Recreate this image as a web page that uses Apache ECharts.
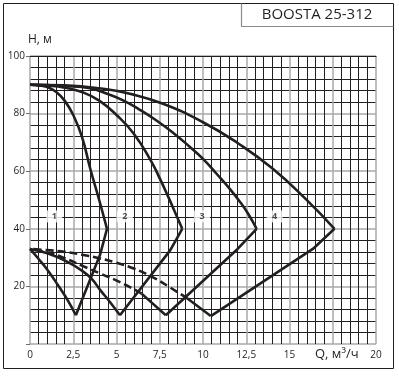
<!DOCTYPE html>
<html>
<head>
<meta charset="utf-8">
<script src="https://cdn.jsdelivr.net/npm/echarts@6/dist/echarts.min.js"></script>
<style>
  html, body { margin: 0; padding: 0; background: #fff; }
  #chart { width: 399px; height: 376px; }
</style>
</head>
<body>
<div id="chart"></div>
<script>
// tick labels (17,5 is left out, the axis name sits there)
const xTickLabels = ['0', '2,5', '5', '7,5', '10', '12,5', '15', '', '20'];
const yTickLabels = ['', '20', '40', '60', '80', '100'];

// Q-H curves, [Q m3/h, H m]
const arc1 = [[0, 90], [0.5, 89.8], [1, 89.2], [1.5, 87.6], [2, 84.5], [2.5, 79.5], [3, 72], [3.5, 60.5], [4, 50], [4.45, 40]];
const arc2 = [[0, 90], [1, 89.7], [2, 89], [3, 87.5], [4, 84.5], [5, 79.5], [6, 73], [7, 63.5], [7.5, 57.5], [8, 51], [8.4, 45.5], [8.8, 40]];
const arc3 = [[0, 90], [1, 89.9], [2, 89.6], [3.46, 88.8], [4.5, 86.8], [5.38, 84.6], [6.3, 81.5], [7.31, 77.6], [8.3, 73.2], [9.23, 68.5], [10, 64.3], [10.77, 59.2], [11.5, 54.2], [12.12, 49.5], [12.6, 45.3], [13.1, 40]];
const arc4 = [[0, 90], [2, 89.8], [4, 88.8], [5.77, 86.9], [7.69, 83.4], [10, 77], [12, 69.8], [14, 61], [15.96, 50.2], [17.6, 40]];

// from the 40 m point down to the lowest point
const rise1 = [[4.45, 40], [4.05, 31], [2.65, 10]];
const rise2 = [[8.8, 40], [8.1, 32.5], [5.2, 10]];
const rise3 = [[13.1, 40], [12.0, 33], [7.85, 10]];
const rise4 = [[17.6, 40], [16.35, 33], [10.45, 9.7]];

// back from the lowest point to Q = 0
const foot1 = [[2.65, 10], [2.2, 15], [1.63, 20.3], [1, 25.8], [0.5, 29.5], [0, 33]];
const foot2 = [[5.2, 10], [4.62, 14.6], [4.05, 18.8], [3.58, 22.5], [3, 25.5], [2, 29], [1, 31.5], [0, 33]];
const foot3 = [[7.85, 10], [6.45, 17.5]];
const foot4 = [[10.45, 9.7], [9.1, 15.8]];
const dash3 = [[6.45, 17.5], [5.2, 21.5], [4.05, 24.5], [3, 27.2], [2, 29.8], [1, 31.8], [0, 33]];
const dash4 = [[9.1, 15.8], [8, 20], [7, 23.5], [6, 26.2], [5, 28.2], [4.05, 29.7], [3, 31], [2, 32], [1, 32.6], [0, 33]];

// curve numbers
const curveNames = ['1', '2', '3', '4'];
const curveNameQ = [1.4, 5.48, 9.94, 14.14];
const curveNameH = [44.3, 44.3, 44.3, 44.3];

const ink = '#231f20';
const grey = '#a7a9ac';

function lineSeries(data, smooth, dashed) {
  return {
    type: 'line',
    data: data,
    smooth: smooth ? 0.5 : false,
    symbol: 'none',
    silent: true,
    z: 3,
    lineStyle: { color: ink, width: 2.6, type: dashed ? [8, 4] : 'solid' }
  };
}

const series = [
  lineSeries(arc1, true), lineSeries(arc2, true), lineSeries(arc3, true), lineSeries(arc4, true),
  lineSeries(rise1), lineSeries(rise2), lineSeries(rise3), lineSeries(rise4),
  lineSeries(foot1, true), lineSeries(foot2, true), lineSeries(foot3), lineSeries(foot4),
  lineSeries(dash3, true, true), lineSeries(dash4, true, true),
  {
    type: 'scatter',
    symbol: 'rect',
    symbolSize: [16, 12],
    itemStyle: { color: '#fff' },
    z: 4,
    silent: true,
    label: {
      show: true, position: 'inside', formatter: '{b}',
      color: ink, fontSize: 9, fontWeight: 'bold', fontFamily: 'Open Sans'
    },
    data: curveNames.map((n, i) => ({ name: n, value: [curveNameQ[i], curveNameH[i]] }))
  }
];

const chart = echarts.init(document.getElementById('chart'));
chart.setOption({
  animation: false,
  backgroundColor: '#fff',
  grid: { left: 30, top: 56, width: 346, height: 288 },
  xAxis: [{
    type: 'value', min: 0, max: 20, interval: 2.5,
    axisLine: { show: false },
    axisTick: { show: false },
    axisLabel: {
      margin: 6, fontSize: 10, color: ink, fontFamily: 'Open Sans',
      formatter: v => xTickLabels[Math.round(v / 2.5)]
    },
    splitLine: { show: true, lineStyle: { color: grey, width: 1.5 } },
    minorTick: { show: false, splitNumber: 5 },
    minorSplitLine: { show: true, lineStyle: { color: ink, width: 1 } }
  }, {
    type: 'value', min: 0, max: 20, position: 'top',
    axisLine: { show: true, lineStyle: { color: ink, width: 1 } },
    axisTick: { show: false }, axisLabel: { show: false }, splitLine: { show: false }
  }],
  yAxis: {
    type: 'value', min: 0, max: 100, interval: 20,
    axisLine: { show: false },
    axisTick: { show: true, length: 4, lineStyle: { color: '#6d6e71' } },
    axisLabel: {
      margin: 5, fontSize: 10, color: ink, fontFamily: 'Open Sans',
      formatter: v => yTickLabels[Math.round(v / 20)]
    },
    splitLine: { show: true, lineStyle: { color: grey, width: 1.5 } },
    minorTick: { show: false, splitNumber: 5 },
    minorSplitLine: { show: true, lineStyle: { color: ink, width: 1 } }
  },
  graphic: [
    { type: 'rect', shape: { x: 3.5, y: 3.5, width: 390, height: 365 }, style: { fill: 'none', stroke: ink, lineWidth: 1 }, silent: true },
    { type: 'polyline', shape: { points: [[241.5, 3.5], [241.5, 26.5], [393.5, 26.5]] }, style: { fill: 'none', stroke: '#8a8c8e', lineWidth: 1.2 }, silent: true },
    { type: 'text', x: 317, y: 15, style: { text: 'BOOSTA 25-312', fill: ink, font: '15px "Open Sans"', align: 'center', verticalAlign: 'middle' } },
    { type: 'text', x: 28, y: 40, style: { text: 'H, м', fill: ink, font: '12px "Open Sans"', align: 'left', verticalAlign: 'middle' } },
    { type: 'text', x: 315, y: 354, style: { text: 'Q, м³/ч', fill: ink, font: '13px "Open Sans"', align: 'left', verticalAlign: 'middle' } }
  ],
  series: series
});
</script>
</body>
</html>
